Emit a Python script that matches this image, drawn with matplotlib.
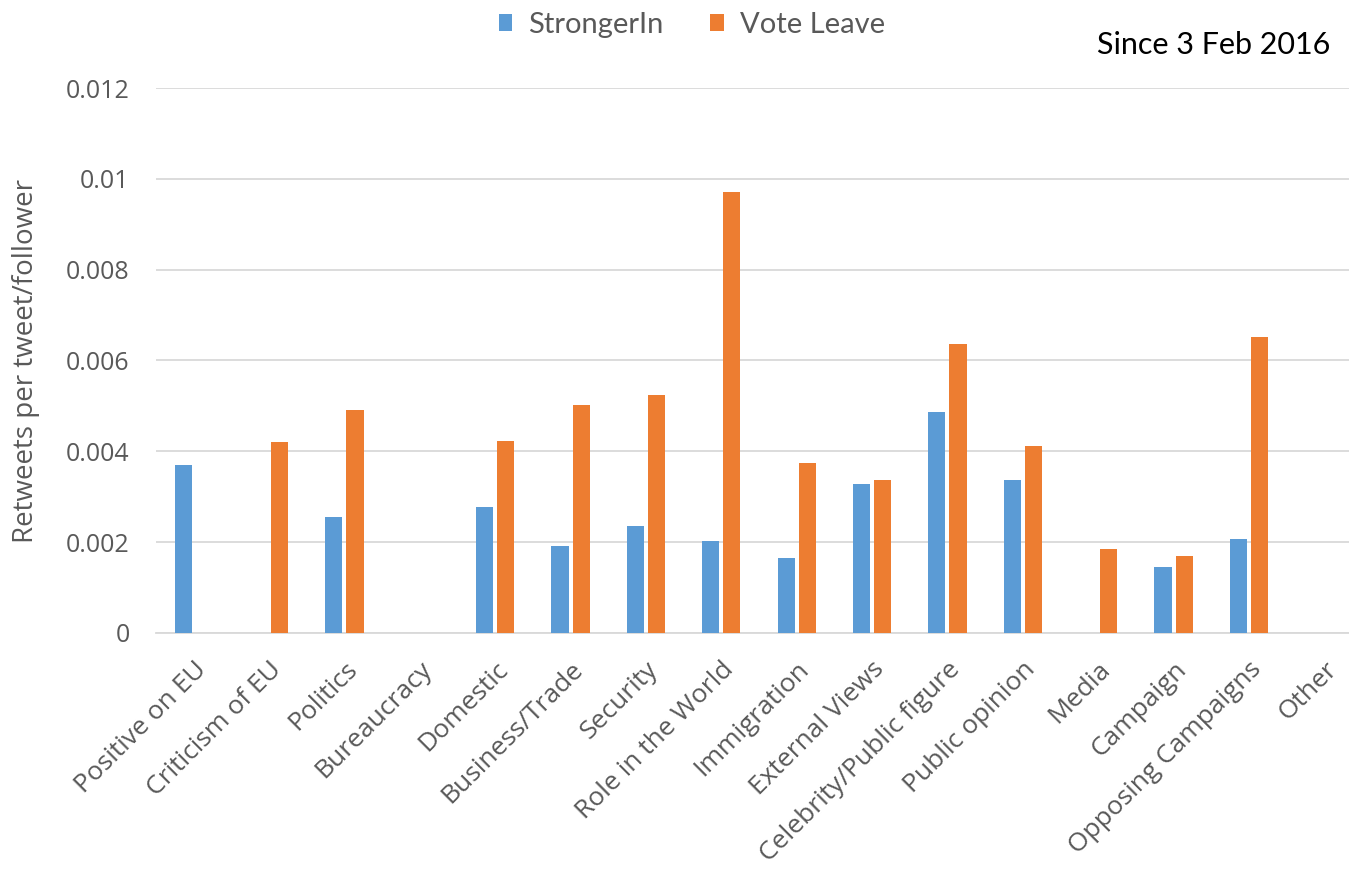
import matplotlib
matplotlib.use("Agg")
import matplotlib.pyplot as plt
import numpy as np
from matplotlib.ticker import FuncFormatter, MultipleLocator

categories = ["Positive on EU", "Criticism of EU", "Politics", "Bureaucracy",
              "Domestic", "Business/Trade", "Security", "Role in the World",
              "Immigration", "External Views", "Celebrity/Public figure",
              "Public opinion", "Media", "Campaign", "Opposing Campaigns", "Other"]
stronger_in = [0.00371, 0, 0.00255, 0, 0.00278, 0.00191, 0.00236, 0.00203,
               0.00166, 0.00329, 0.00486, 0.00336, 0, 0.00145, 0.00207, 0]
vote_leave = [0, 0.00421, 0.00492, 0, 0.00423, 0.00503, 0.00523, 0.00972,
              0.00374, 0.00336, 0.00636, 0.00411, 0.00186, 0.00170, 0.00651, 0]
series_names = ["StrongerIn", "Vote Leave"]

BLUE = "#5B9BD5"
ORANGE = "#ED7D31"
GRID = "#D9D9D9"
TEXT = "#595959"

plt.rcParams["font.family"] = ["Open Sans", "DejaVu Sans"]

W, H = 1349, 872
fig = plt.figure(figsize=(W / 100, H / 100), dpi=100)
left, right, bottom, top = 156, 1362, 633, 88
ax = fig.add_axes([left / W, 1 - bottom / H, (right - left) / W, (bottom - top) / H])

x = np.arange(len(categories))
bw = 0.226
off = 0.14
ax.bar(x - off, stronger_in, width=bw, color=BLUE, label=series_names[0], zorder=3)
ax.bar(x + off, vote_leave, width=bw, color=ORANGE, label=series_names[1], zorder=3)

ax.set_xlim(-0.5, len(categories) - 0.5)
ax.set_ylim(0, 0.012)
ax.yaxis.set_major_locator(MultipleLocator(0.002))
ax.yaxis.set_major_formatter(FuncFormatter(lambda v, p: "0" if abs(v) < 1e-12 else f"{v:g}"))
ax.grid(axis="y", color=GRID, linewidth=1.3, zorder=0)
ax.set_axisbelow(True)
for s in ["top", "right", "left"]:
    ax.spines[s].set_visible(False)
ax.spines["bottom"].set_color(GRID)
ax.spines["bottom"].set_linewidth(1.3)
ax.tick_params(axis="both", length=0, colors=TEXT)
ax.tick_params(axis="y", pad=19, labelsize=18)
ax.set_xticks(x)
ax.set_xticklabels(categories, rotation=45, ha="right", rotation_mode="anchor")
ax.tick_params(axis="x", pad=17, labelsize=19)

ax.set_ylabel("Retweets per tweet/follower", fontsize=20, color=TEXT)
ax.yaxis.set_label_coords(40 / W, 1 - (bottom + top) / 2 / H, transform=fig.transFigure)

fig.legend(loc="center", bbox_to_anchor=(692 / W, 1 - 25 / H), ncol=2, frameon=False,
           prop={"family": ["Lato", "DejaVu Sans"], "size": 21},
           handlelength=0.45, handleheight=0.55, handletextpad=0.55,
           columnspacing=1.6, labelcolor=TEXT)

fig.text(1330 / W, 1 - 45 / H, "Since 3 Feb 2016", ha="right", va="center",
         fontsize=22, color="black", family=["Lato", "DejaVu Sans"])

fig.savefig("out.png", dpi=100, facecolor="white")
